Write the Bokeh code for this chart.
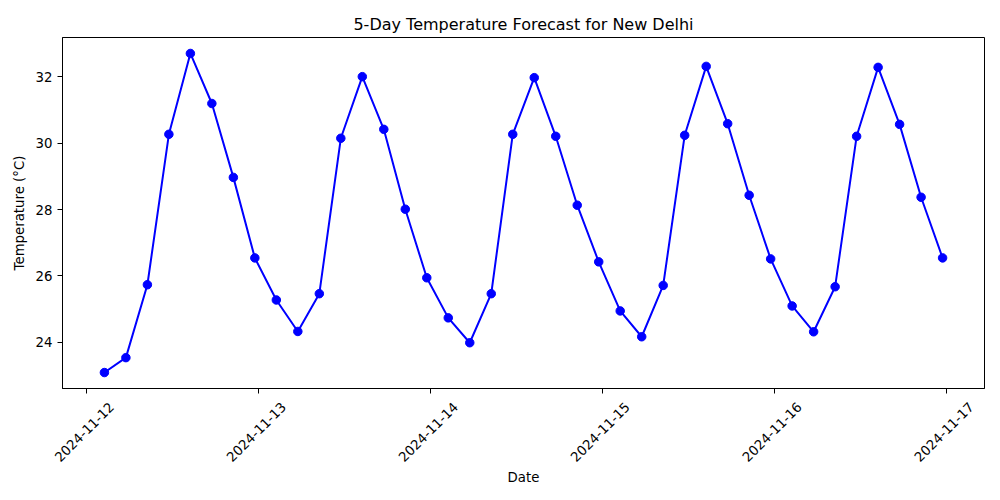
import pandas as pd
from math import pi
from bokeh.plotting import figure
from bokeh.models import (Range1d, FixedTicker, CustomJSTickFormatter, DatetimeAxis,
                          DatetimeTickFormatter)
from bokeh.embed import file_html
from bokeh.resources import INLINE

times = [
    "2024-11-12 02:30", "2024-11-12 05:30", "2024-11-12 08:30", "2024-11-12 11:30",
    "2024-11-12 14:30", "2024-11-12 17:30", "2024-11-12 20:30", "2024-11-12 23:30",
    "2024-11-13 02:30", "2024-11-13 05:30", "2024-11-13 08:30", "2024-11-13 11:30",
    "2024-11-13 14:30", "2024-11-13 17:30", "2024-11-13 20:30", "2024-11-13 23:30",
    "2024-11-14 02:30", "2024-11-14 05:30", "2024-11-14 08:30", "2024-11-14 11:30",
    "2024-11-14 14:30", "2024-11-14 17:30", "2024-11-14 20:30", "2024-11-14 23:30",
    "2024-11-15 02:30", "2024-11-15 05:30", "2024-11-15 08:30", "2024-11-15 11:30",
    "2024-11-15 14:30", "2024-11-15 17:30", "2024-11-15 20:30", "2024-11-15 23:30",
    "2024-11-16 02:30", "2024-11-16 05:30", "2024-11-16 08:30", "2024-11-16 11:30",
    "2024-11-16 14:30", "2024-11-16 17:30", "2024-11-16 20:30", "2024-11-16 23:30",
]
temps = [
    23.08, 23.53, 25.73, 30.27, 32.71, 31.20, 28.97, 26.54,
    25.27, 24.32, 25.46, 30.15, 32.01, 30.42, 28.01, 25.94,
    24.73, 23.98, 25.46, 30.27, 31.98, 30.21, 28.13, 26.42,
    24.94, 24.16, 25.71, 30.24, 32.32, 30.59, 28.43, 26.51,
    25.09, 24.31, 25.67, 30.21, 32.29, 30.57, 28.37, 26.54,
]
tick_dates = ["2024-11-12", "2024-11-13", "2024-11-14", "2024-11-15", "2024-11-16", "2024-11-17"]
y_ticks = [24, 26, 28, 30, 32]

FONT = "DejaVu Sans"

# layout (pixels)
W, H = 990, 490
BL, BR, BT, BB = 62, 6, 37, 102
FRAME_W = W - BL - BR
LABEL_SHIFT_PX = 25  # rotated labels are centred on their tick, as in the reference

t = pd.to_datetime(times)
t0, t1 = t.min(), t.max()
xpad = (t1 - t0) * 0.05
ymin, ymax = min(temps), max(temps)
ypad = (ymax - ymin) * 0.05

def to_ms(ts):
    return (pd.Timestamp(ts) - pd.Timestamp("1970-01-01")) / pd.Timedelta(milliseconds=1)

x_start, x_end = to_ms(t0 - xpad), to_ms(t1 + xpad)
shift_ms = LABEL_SHIFT_PX * (x_end - x_start) / FRAME_W

p = figure(
    width=W, height=H,
    x_axis_type="datetime",
    x_range=Range1d(start=x_start, end=x_end),
    y_range=Range1d(start=ymin - ypad, end=ymax + ypad),
    output_backend="svg", toolbar_location=None,
    title="5-Day Temperature Forecast for New Delhi",
    min_border_left=BL, min_border_right=BR, min_border_top=BT, min_border_bottom=BB,
    background_fill_color="white", border_fill_color="white",
)
p.extra_x_ranges = {"labels": Range1d(start=x_start - shift_ms, end=x_end - shift_ms)}

p.line(x=t, y=temps, line_color="#0000ff", line_width=2)
p.scatter(x=t, y=temps, size=8.5, fill_color="#0000ff", line_color="#0000ff")

p.title.text_font = FONT
p.title.text_font_size = "16px"
p.title.text_font_style = "normal"
p.title.align = "center"
p.title.text_color = "black"
p.title.standoff = 8

p.xgrid.visible = False
p.ygrid.visible = False
p.outline_line_color = "black"
p.outline_line_width = 1

tick_ms = [to_ms(d) for d in tick_dates]

label_axis = DatetimeAxis(x_range_name="labels")
p.add_layout(label_axis, "below")

for ax in (p.xaxis[0], p.yaxis[0], label_axis):
    ax.axis_line_color = "black"
    ax.major_tick_line_color = "black"
    ax.major_tick_in = 0
    ax.major_tick_out = 5
    ax.minor_tick_line_color = None
    ax.major_label_text_font = FONT
    ax.major_label_text_font_size = "13.3px"
    ax.major_label_text_color = "black"
    ax.axis_label_text_font = FONT
    ax.axis_label_text_font_size = "13.3px"
    ax.axis_label_text_font_style = "normal"
    ax.axis_label_text_color = "black"

# tick marks only on the frame axis
main_x = p.xaxis[0]
main_x.ticker = FixedTicker(ticks=tick_ms)
main_x.formatter = CustomJSTickFormatter(code="return ''")
main_x.major_label_standoff = 0

# date labels (rotated 45 degrees) and axis title on the second axis
fmt = "%Y-%m-%d"
label_axis.ticker = FixedTicker(ticks=tick_ms)
label_axis.formatter = DatetimeTickFormatter(days=fmt, months=fmt, hours=fmt, hourmin=fmt,
                                             minutes=fmt, years=fmt, context=None)
label_axis.axis_line_color = None
label_axis.major_tick_line_color = None
label_axis.major_tick_out = 0
label_axis.major_label_standoff = 11
label_axis.major_label_orientation = pi / 4
label_axis.axis_label = "Date"
label_axis.axis_label_standoff = 1

p.yaxis.ticker = FixedTicker(ticks=y_ticks)
p.yaxis.major_label_standoff = 5
p.yaxis.axis_label = "Temperature (°C)"
p.yaxis.axis_label_standoff = 6

open("out.html", "w").write(file_html(p, INLINE))
